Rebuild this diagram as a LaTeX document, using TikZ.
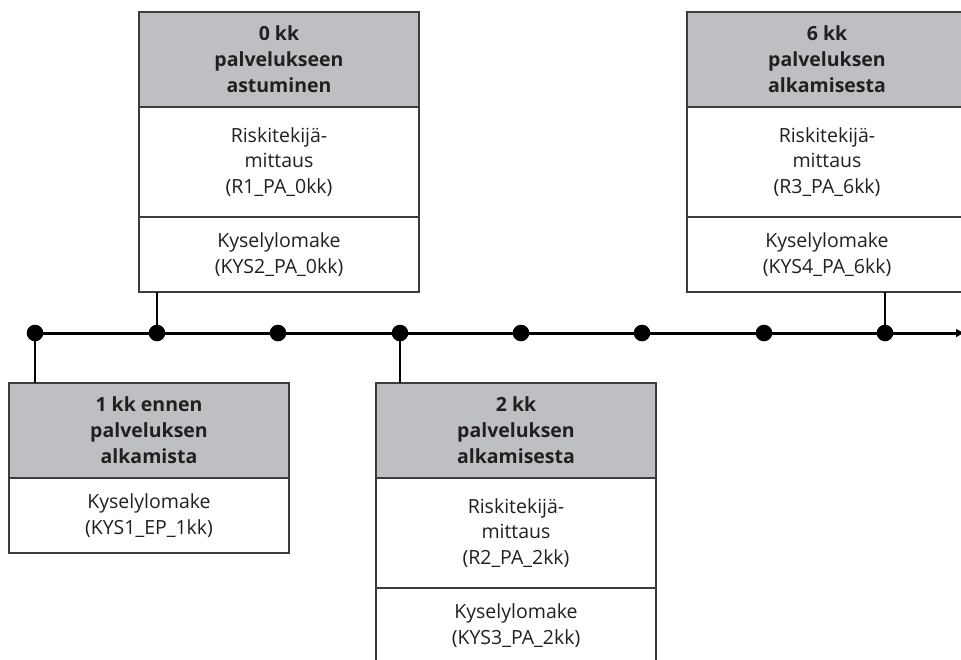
\documentclass[tikz,border=0pt]{standalone}
\usepackage{fontspec}
\setmainfont{Open Sans}
\usetikzlibrary{positioning,arrows.meta}
\definecolor{headgray}{RGB}{190,191,195}
\definecolor{linegray}{RGB}{60,60,60}
\definecolor{textgray}{RGB}{35,31,32}
\tikzset{
  sect/.style={draw=linegray, line width=1.2pt, outer sep=0pt, inner sep=0pt,
    minimum width=280pt, align=center, text=textgray,
    font=\fontsize{19.5}{25.6}\selectfont},
  head/.style={sect, fill=headgray, minimum height=95pt,
    font=\fontsize{19.5}{26}\selectfont\bfseries},
  meas/.style={sect, fill=white, minimum height=110pt},
  quest/.style={sect, fill=white, minimum height=75pt},
  link/.style={line width=1.5pt},
}
\begin{document}
\begin{tikzpicture}[x=1pt,y=-1pt]
      \useasboundingbox (0,0) rectangle (961,659);
      \clip (0,0) rectangle (961,659);
      % timeline points
      \coordinate (d0) at (35,333);
      \coordinate (d1) at (157,333);
      \coordinate (d2) at (278,333);
      \coordinate (d3) at (400,333);
      \coordinate (d4) at (521,333);
      \coordinate (d5) at (642,333);
      \coordinate (d6) at (764,333);
      \coordinate (d7) at (885,333);
      \coordinate (tend) at (965,333);
      % boxes above
      \node[head] (h0) at (279,59.5) {0 kk\\palvelukseen\\astuminen};
      \node[meas, below=0pt of h0] (r0) {Riskitekijä-\\mittaus\\(R1\_PA\_0kk)};
      \node[quest, below=0pt of r0] (k0) {Kyselylomake\\(KYS2\_PA\_0kk)};
      \node[head] (h6) at (827,59.5) {6 kk\\palveluksen\\alkamisesta};
      \node[meas, below=0pt of h6] (r6) {Riskitekijä-\\mittaus\\(R3\_PA\_6kk)};
      \node[quest, below=0pt of r6] (k6) {Kyselylomake\\(KYS4\_PA\_6kk)};
      % boxes below
      \node[head] (h1) at (149,430.5) {1 kk ennen\\palveluksen\\alkamista};
      \node[quest, below=0pt of h1] (k1) {Kyselylomake\\(KYS1\_EP\_1kk)};
      \node[head] (h2) at (516,430.5) {2 kk\\palveluksen\\alkamisesta};
      \node[meas, below=0pt of h2] (r2) {Riskitekijä-\\mittaus\\(R2\_PA\_2kk)};
      \node[quest, below=0pt of r2] (k2) {Kyselylomake\\(KYS3\_PA\_2kk)};
      \begin{scope}[link]
        \draw (k0.south -| d1) to (d1);
        \draw (k6.south -| d7) to (d7);
        \draw (d0) to (d0 |- h1.north);
        \draw (d3) to (d3 |- h2.north);
      \end{scope}
      \draw[line width=3pt, -{Latex[length=9pt,width=9pt]}] (d0) -- (tend);
      \fill (d0) circle (8.3pt) (d1) circle (8.3pt) (d2) circle (8.3pt)
        (d3) circle (8.3pt) (d4) circle (8.3pt) (d5) circle (8.3pt)
        (d6) circle (8.3pt) (d7) circle (8.3pt);
    \end{tikzpicture}
\end{document}
